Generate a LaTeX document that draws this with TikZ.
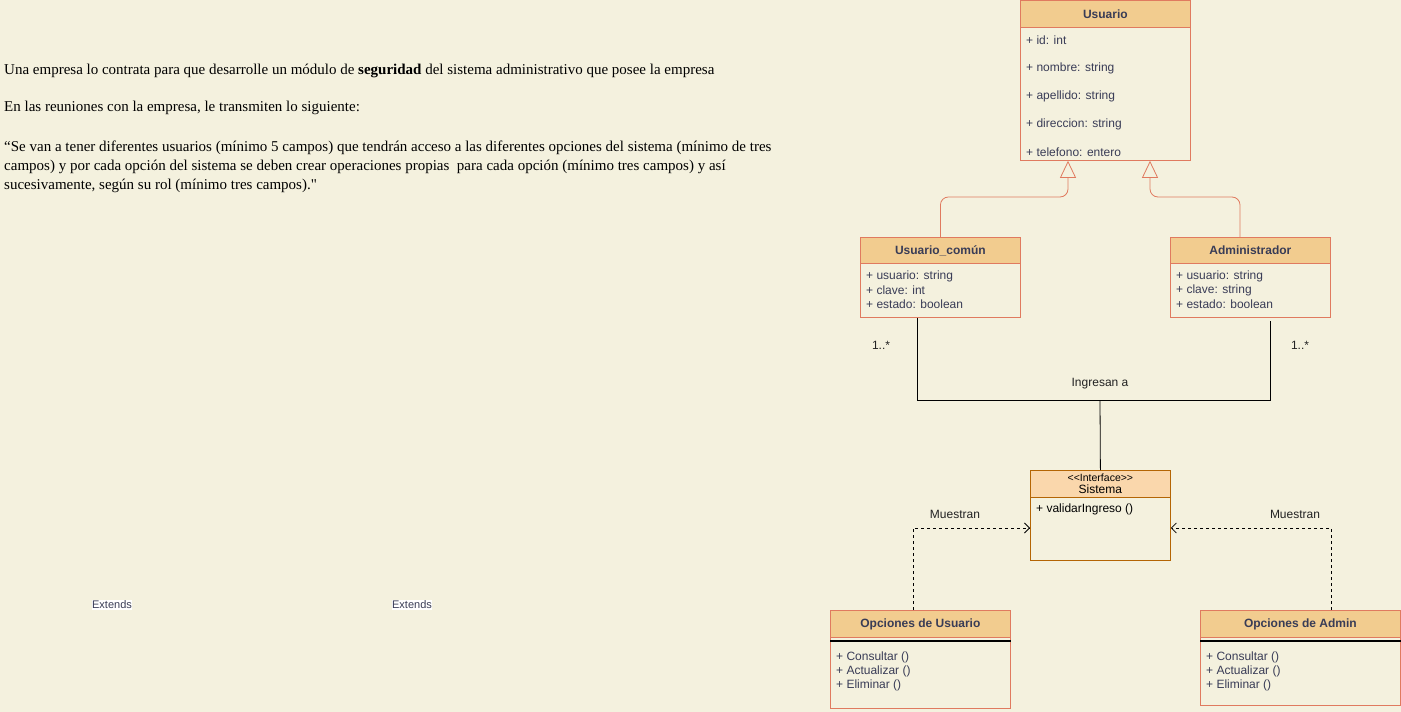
\documentclass[tikz,border=0pt]{standalone}
\usepackage{fontspec}
\setmainfont{Liberation Serif}
\newfontfamily\dio{Liberation Sans}
\newfontfamily\rawserif[Ligatures=TeXOff]{Liberation Serif}
\usetikzlibrary{arrows.meta,calc}
\definecolor{bgc}{HTML}{F4F1DE}
\definecolor{hdrc}{HTML}{F2CC8F}
\definecolor{strk}{HTML}{E07A5F}
\definecolor{txt}{HTML}{393C56}
\definecolor{ifill}{HTML}{FAD7AC}
\definecolor{istrk}{HTML}{B46504}
\definecolor{edgetxt}{HTML}{222222}
\begin{document}
\begin{tikzpicture}[x=1pt,y=-1pt,
  classbody/.style={draw=strk, fill=bgc, line width=0.8pt, inner sep=0pt, anchor=north west},
  classhead/.style={draw=strk, fill=hdrc, line width=0.8pt, inner sep=0pt, anchor=north west,
     font=\dio\fontsize{12}{14}\selectfont\bfseries, text=txt},
  attr/.style={font=\dio\fontsize{12}{14}\selectfont, text=txt, anchor=west, inner sep=0pt},
  edgelbl/.style={font=\dio\fontsize{12}{14}\selectfont, text=edgetxt, inner sep=0pt},
  para/.style={font=\fontsize{15}{18}\selectfont, anchor=west, inner sep=0pt, text=black},
  inh/.style={draw=strk, line width=0.8pt, rounded corners=8pt, -{Triangle[open,length=17pt,width=16pt,fill=bgc]}},
  assoc/.style={draw=black, line width=0.8pt},
  dep/.style={draw=black, line width=0.8pt, dash pattern=on 3pt off 3pt, -{Straight Barb[length=5pt,width=10pt]}},
  extlbl/.style={font=\dio\fontsize{11}{13}\selectfont, text=txt, fill=white, inner sep=0.5pt}
]
\useasboundingbox[fill=bgc] (0,0) rectangle (1401,712);

% --- paragraph text
\node[para] (p1) at (4,71) {Una empresa lo contrata para que desarrolle un módulo de \textbf{seguridad} del sistema administrativo que posee la empresa};
\node[para] (p2) at (4,108) {En las reuniones con la empresa, le transmiten lo siguiente:};
\node[para] (p3) at (4,148) {“Se van a tener diferentes usuarios (mínimo 5 campos) que tendrán acceso a las diferentes opciones del sistema (mínimo de tres};
\node[para] (p4) at (4,167) {campos) y por cada opción del sistema se deben crear operaciones propias\ \ para cada opción (mínimo tres campos) y así};
\node[para] (p5) at (4,186) {sucesivamente, según su rol (mínimo tres campos).{\rawserif "}};

% --- Extends labels
\node[extlbl] (ext1) at (112,605) {Extends};
\node[extlbl] (ext2) at (412,605) {Extends};

% --- Usuario
\node[classbody, minimum width=170pt, minimum height=160pt] (usuario) at (1020,0) {};
\node[classhead, minimum width=170pt, minimum height=27pt] (usuarioH) at (1020,0) {Usuario};
\node[attr] (u1) at (1026,40) {+ id: int};
\node[attr] (u2) at (1026,68) {+ nombre: string};
\node[attr] (u3) at (1026,96) {+ apellido: string};
\node[attr] (u4) at (1026,124) {+ direccion: string};
\node[attr] (u5) at (1026,152) {+ telefono: entero};

% --- Usuario_común
\node[classbody, minimum width=160pt, minimum height=80pt] (ucom) at (860,237) {};
\node[classhead, minimum width=160pt, minimum height=26pt] (ucomH) at (860,237) {Usuario\_común};
\node[attr] (c1) at (866,276) {+ usuario: string};
\node[attr] (c2) at (866,290) {+ clave: int};
\node[attr] (c3) at (866,304) {+ estado: boolean};

% --- Administrador
\node[classbody, minimum width=160pt, minimum height=80pt] (admin) at (1170,237) {};
\node[classhead, minimum width=160pt, minimum height=26pt] (adminH) at (1170,237) {Administrador};
\node[attr] (a1) at (1176,276) {+ usuario: string};
\node[attr] (a2) at (1176,290) {+ clave: string};
\node[attr] (a3) at (1176,304) {+ estado: boolean};

% --- Sistema (interface)
\node[draw=istrk, fill=bgc, line width=0.8pt, inner sep=0pt, anchor=north west, minimum width=140pt, minimum height=90pt] (sis) at (1030,470) {};
\node[draw=istrk, fill=ifill, line width=0.8pt, inner sep=0pt, anchor=north west, minimum width=140pt, minimum height=27pt, align=center,
  font=\dio\fontsize{12}{13}\selectfont] (sisH) at (1030,470) {{\fontsize{10.5}{12}\selectfont <{}<Interface>{}>}\\[-1pt]Sistema};
\node[attr, text=black] (s1) at (1036,509) {+ validarIngreso ()};

% --- Opciones de Usuario
\node[classbody, minimum width=180pt, minimum height=98pt] (opu) at (830,610) {};
\node[classhead, minimum width=180pt, minimum height=27pt] (opuH) at (830,610) {Opciones de Usuario};
\draw[black, line width=1.6pt] ($(opu.north west)+(0,31)$) -- ($(opu.north east)+(0,31)$);
\node[attr] (ou1) at (836,657) {+ Consultar ()};
\node[attr] (ou2) at (836,671) {+ Actualizar ()};
\node[attr] (ou3) at (836,685) {+ Eliminar ()};

% --- Opciones de Admin
\node[classbody, minimum width=200pt, minimum height=95pt] (opa) at (1200,610) {};
\node[classhead, minimum width=200pt, minimum height=27pt] (opaH) at (1200,610) {Opciones de Admin};
\draw[black, line width=1.6pt] ($(opa.north west)+(0,31)$) -- ($(opa.north east)+(0,31)$);
\node[attr] (oa1) at (1206,657) {+ Consultar ()};
\node[attr] (oa2) at (1206,671) {+ Actualizar ()};
\node[attr] (oa3) at (1206,685) {+ Eliminar ()};

% --- inheritance
\draw[inh] (ucom.north) -- ++(0,-40) -| ($(usuario.south west)+(48,0)$);
\draw[inh] ($(admin.north west)+(70,0)$) -- ++(0,-40) -| ($(usuario.south west)+(130,0)$);

% --- association
\coordinate (jn) at (1100,400);
\draw[assoc] ($(ucom.south west)+(57,0)$) |- ($(admin.south west)+(100,83)$) -- ($(admin.south west)+(100,3)$);
\draw[assoc] (jn) -- (sis.north);
\node[edgelbl] (ing) at (1100,384) {Ingresan a};
\node[edgelbl] (m1) at (881,345) {1..*};
\node[edgelbl] (m2) at (1300,345) {1..*};

% --- dependencies
\draw[dep] ($(opu.north west)+(83,0)$) |- ($(sis.north west)+(0,58)$);
\draw[dep] ($(opa.north west)+(131,0)$) |- ($(sis.north east)+(0,58)$);
\node[edgelbl] (mu1) at (955,514) {Muestran};
\node[edgelbl] (mu2) at (1295,514) {Muestran};
\end{tikzpicture}
\end{document}
